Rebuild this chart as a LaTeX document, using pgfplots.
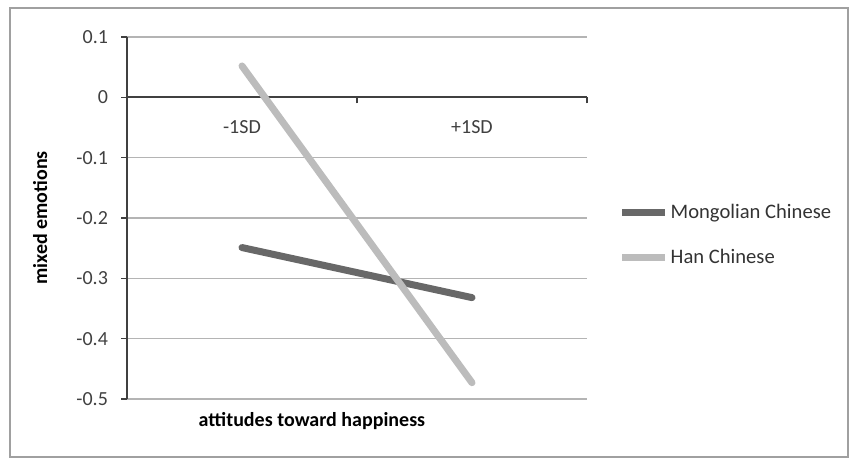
\documentclass[border=0pt]{standalone}
\usepackage{fontspec}
\setmainfont{Carlito}
\usepackage{pgfplots}
\pgfplotsset{compat=1.18}
\definecolor{mongol}{HTML}{686868}
\definecolor{han}{HTML}{BCBCBC}
\definecolor{gridc}{HTML}{B4B4B4}
\definecolor{framec}{HTML}{A0A0A0}
\begin{document}
\begin{tikzpicture}
\useasboundingbox (-63.5pt,-30pt) rectangle (363.5pt,199.5pt);
\draw[framec, line width=1pt] (-58.5pt,-29pt) rectangle (360.5pt,195.5pt);
\begin{axis}[
    at={(0pt,0pt)}, anchor=south west,
    scale only axis,
    width=230pt, height=181pt,
    xmin=0, xmax=2,
    ymin=-0.5, ymax=0.1,
    axis x line*=middle,
    axis y line*=left,
    x axis line style={color=black!75, line width=1pt},
    y axis line style={color=black!75, line width=1pt},
    xtick={0,1,2},
    xticklabels={},
    extra x ticks={0.5,1.5},
    extra x tick labels={-1SD,+1SD},
    extra x tick style={major tick length=0pt,
        tick label style={yshift=-8pt}},
    major tick length=3pt,
    xtick style={color=black!75, line width=0.8pt},
    ytick={-0.5,-0.4,...,0.1},
    ytick style={color=black!75, line width=0.8pt},
    tick align=outside,
    ymajorgrids,
    grid style={color=gridc, line width=0.8pt},
    yticklabel style={/pgf/number format/fixed, /pgf/number format/assume math mode=true, xshift=-3pt},
    tick label style={font=\fontsize{10}{12}\selectfont, color=black!75},
    ylabel={\textbf{mixed emotions}},
    ylabel style={at={(axis description cs:-0.189,0.5)}, anchor=center, font=\fontsize{10}{12}\selectfont},
    xlabel={\textbf{attitudes toward happiness}},
    xlabel style={at={(axis description cs:0.402,-0.062)}, anchor=center, font=\fontsize{10}{12}\selectfont},
    legend style={at={(axis description cs:1.055,0.453)}, anchor=west, draw=none, fill=none,
        font=\fontsize{10.3}{12}\selectfont, text=black!80, row sep=10pt,
        nodes={inner xsep=1pt}},
    legend cell align=left,
    legend image code/.code={\draw[#1, line cap=butt] (0pt,0pt) -- (21.5pt,0pt);},
    clip=false,
]
\addplot[mongol, line width=3.5pt, line cap=round] coordinates {(0.5,-0.249) (1.5,-0.332)};
\addlegendentry{Mongolian Chinese}
\addplot[han, line width=3.5pt, line cap=round] coordinates {(0.5,0.052) (1.5,-0.473)};
\addlegendentry{Han Chinese}
\end{axis}
\end{tikzpicture}
\end{document}
